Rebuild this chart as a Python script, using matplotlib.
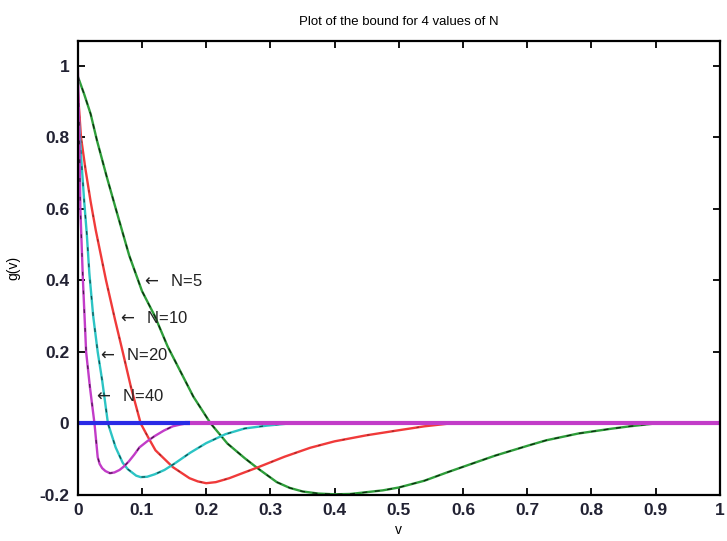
import matplotlib
matplotlib.use("Agg")
import matplotlib.pyplot as plt

plt.rcParams['font.family'] = ['Liberation Sans', 'DejaVu Sans']

# N = 5 (green)
v5 = [0, 0.01, 0.02, 0.03, 0.045, 0.06, 0.08, 0.1, 0.12, 0.14, 0.16, 0.18, 0.207,
      0.233, 0.26, 0.28, 0.31, 0.33, 0.35, 0.375, 0.4, 0.425, 0.45, 0.475, 0.5, 0.54,
      0.575, 0.61, 0.65, 0.705, 0.73, 0.78, 0.83, 0.86, 0.9, 1.0]
g5 = [0.97, 0.92, 0.865, 0.79, 0.69, 0.595, 0.47, 0.37, 0.3, 0.215, 0.145, 0.075, 0.0,
      -0.056, -0.097, -0.125, -0.164, -0.18, -0.19, -0.196, -0.198, -0.197, -0.192,
      -0.187, -0.179, -0.16, -0.137, -0.115, -0.09, -0.06, -0.047, -0.028, -0.015,
      -0.008, 0.0, 0.0]

# N = 10 (red)
v10 = [0, 0.005, 0.012, 0.02, 0.028, 0.036, 0.044, 0.058, 0.07, 0.083, 0.098, 0.11,
       0.121, 0.148, 0.174, 0.187, 0.2, 0.215, 0.236, 0.255, 0.28, 0.322, 0.362, 0.4,
       0.45, 0.5, 0.54, 0.58, 1.0]
g10 = [0.93, 0.8, 0.71, 0.62, 0.54, 0.47, 0.4, 0.29, 0.2, 0.1, 0.0, -0.04,
       -0.075, -0.122, -0.153, -0.162, -0.167, -0.164, -0.153, -0.14, -0.123, -0.093,
       -0.068, -0.05, -0.033, -0.019, -0.008, 0.0, 0.0]

# N = 20 (cyan)
v20 = [0, 0.005, 0.01, 0.014, 0.018, 0.024, 0.031, 0.038, 0.047, 0.059, 0.07, 0.078,
       0.091, 0.098, 0.108, 0.12, 0.135, 0.15, 0.175, 0.2, 0.23, 0.26, 0.295, 0.33, 1.0]
g20 = [0.9, 0.75, 0.62, 0.53, 0.42, 0.3, 0.2, 0.12, 0.0, -0.067, -0.11, -0.128,
       -0.146, -0.15, -0.149, -0.142, -0.13, -0.113, -0.082, -0.055, -0.03, -0.014,
       -0.006, 0.0, 0.0]

# N = 40 (magenta)
v40 = [0, 0.002, 0.004, 0.008, 0.013, 0.019, 0.026, 0.031, 0.034, 0.038, 0.043, 0.05,
       0.057, 0.065, 0.072, 0.08, 0.088, 0.096, 0.108, 0.12, 0.134, 0.148, 0.16, 0.17, 1.0]
g40 = [1.0, 0.85, 0.6, 0.4, 0.2, 0.1, 0.0, -0.094, -0.113, -0.125, -0.133, -0.139,
       -0.137, -0.13, -0.12, -0.105, -0.087, -0.067, -0.05, -0.035, -0.02, -0.008,
       -0.003, 0.0, 0.0]

zero_v = [0, 0.175]
zero_g = [0, 0]

labels = ['N=5', 'N=10', 'N=20', 'N=40']
label_v = [0.098, 0.061, 0.030, 0.023]
label_g = [0.397, 0.294, 0.19, 0.078]

xticks = [0, 0.1, 0.2, 0.3, 0.4, 0.5, 0.6, 0.7, 0.8, 0.9, 1]
xticklabels = ['0', '0.1', '0.2', '0.3', '0.4', '0.5', '0.6', '0.7', '0.8', '0.9', '1']
yticks = [-0.2, 0, 0.2, 0.4, 0.6, 0.8, 1]
yticklabels = ['-0.2', '0', '0.2', '0.4', '0.6', '0.8', '1']

fig = plt.figure(figsize=(7.27, 5.41), dpi=100)
ax = fig.add_axes([0.107, 0.085, 0.883, 0.84])

series = [(v5, g5, '#2e9e3a', (0, (4, 6)), 0.75),
          (v10, g10, '#f03a3a', (0, (2, 18)), 0.35),
          (v20, g20, '#2cc4c4', (0, (3, 10)), 0.6),
          (v40, g40, '#c23cc8', (0, (3, 12)), 0.6)]
for v, g, c, dash, a in series:
    ax.plot(v, g, color=c, lw=1.7, solid_capstyle='butt')
    ax.plot(v, g, color='black', lw=0.9, linestyle=dash, alpha=a)

ax.plot(v40[-2:], g40[-2:], color='#c23cc8', lw=3)
ax.plot(zero_v, zero_g, color='#2a2ae6', lw=3, solid_capstyle='butt')

for t, x, y in zip(labels, label_v, label_g):
    ax.text(x, y, r'$\leftarrow$  ' + t, fontsize=12, ha='left', va='center',
            color='#222222')

ax.set_xlim(0, 1)
ax.set_ylim(-0.2, 1.07)
ax.set_xticks(xticks)
ax.set_xticklabels(xticklabels)
ax.set_yticks(yticks)
ax.set_yticklabels(yticklabels)
ax.tick_params(direction='in', top=True, right=True, length=5, width=1.3,
               labelsize=12.5, pad=6)
for lab in ax.get_xticklabels() + ax.get_yticklabels():
    lab.set_fontweight('bold')
    lab.set_color('#222233')
for s in ax.spines.values():
    s.set_linewidth(1.6)

ax.set_title('Plot of the bound for 4 values of N', fontsize=9.5, pad=11)
ax.set_ylabel('g(v)', fontsize=10, labelpad=14)
ax.set_xlabel('v', fontsize=10, labelpad=3)

fig.savefig('out.png', dpi=100)
